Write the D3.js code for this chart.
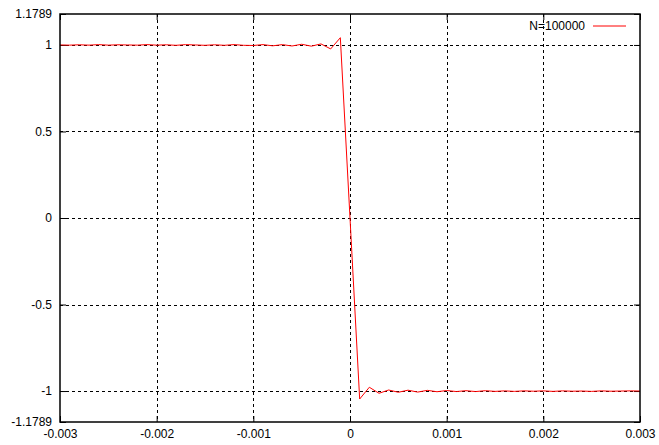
<!DOCTYPE html>
<html>
<head>
<meta charset="utf-8">
<script src="https://cdn.jsdelivr.net/npm/d3@7"></script>
<style>
  html, body { margin: 0; padding: 0; background: #fff; }
  svg { display: block; }
  text { font-family: "Liberation Sans", Arial, sans-serif; font-size: 12px; fill: #000; }
</style>
</head>
<body>
<svg id="chart" width="659" height="445"></svg>
<script>
// x samples (step 1e-4 from -0.003 to 0.003)
const xValues = [
  -0.0030, -0.0029, -0.0028, -0.0027, -0.0026, -0.0025, -0.0024, -0.0023, -0.0022, -0.0021,
  -0.0020, -0.0019, -0.0018, -0.0017, -0.0016, -0.0015, -0.0014, -0.0013, -0.0012, -0.0011,
  -0.0010, -0.0009, -0.0008, -0.0007, -0.0006, -0.0005, -0.0004, -0.0003, -0.0002, -0.0001,
   0.0000,
   0.0001,  0.0002,  0.0003,  0.0004,  0.0005,  0.0006,  0.0007,  0.0008,  0.0009,  0.0010,
   0.0011,  0.0012,  0.0013,  0.0014,  0.0015,  0.0016,  0.0017,  0.0018,  0.0019,  0.0020,
   0.0021,  0.0022,  0.0023,  0.0024,  0.0025,  0.0026,  0.0027,  0.0028,  0.0029,  0.0030
];
// series N=100000 (one value per xValues entry)
const yValues = [
  1.000, 0.999, 1.001, 0.999, 1.002, 0.999, 1.001, 1.000, 0.999, 1.002,
  0.999, 1.001, 0.998, 1.002, 1.000, 0.998, 1.001, 0.998, 1.002, 0.998,
  0.997, 1.002, 0.995, 1.002, 0.994, 1.004, 0.993, 1.006, 0.977, 1.042,
  0.000,
  -1.046, -0.978, -1.013, -0.994, -1.007, -0.995, -1.006, -0.996, -1.004, -0.997,
  -1.003, -0.998, -1.003, -0.998, -1.002, -0.999, -1.002, -0.999, -1.001, -0.999,
  -1.002, -0.999, -1.001, -1.000, -1.002, -0.999, -1.001, -1.000, -0.999, -1.000
];
const xTicks = [-0.003, -0.002, -0.001, 0, 0.001, 0.002, 0.003];
const xTickLabels = ["-0.003", "-0.002", "-0.001", "0", "0.001", "0.002", "0.003"];
const yTicks = [-1.1789, -1, -0.5, 0, 0.5, 1, 1.1789];
const yTickLabels = ["-1.1789", "-1", "-0.5", "0", "0.5", "1", "1.1789"];
const xGrid = [-0.002, -0.001, 0, 0.001, 0.002];
const yGrid = [-1, -0.5, 0, 0.5, 1];
const legendLabel = "N=100000";
</script>
<script>
const svg = d3.select("#chart");
const L = 60, R = 640, T = 14, B = 422;
const x = d3.scaleLinear().domain([-0.003, 0.003]).range([L, R]);
const y = d3.scaleLinear().domain([-1.1789, 1.1789]).range([B, T]);

// grid
const grid = svg.append("g");
grid.selectAll(".gx").data(xGrid).enter().append("line")
  .attr("x1", d => Math.round(x(d)) + 0.5).attr("x2", d => Math.round(x(d)) + 0.5)
  .attr("y1", T).attr("y2", B)
  .attr("stroke", "#000").attr("stroke-width", 1).attr("stroke-dasharray", "3,3");
grid.selectAll(".gy").data(yGrid).enter().append("line")
  .attr("y1", d => Math.round(y(d)) + 0.5).attr("y2", d => Math.round(y(d)) + 0.5)
  .attr("x1", L).attr("x2", R)
  .attr("stroke", "#000").attr("stroke-width", 1).attr("stroke-dasharray", "3,3");

// axes (ticks inward, mirrored)
const xAxisB = d3.axisBottom(x).tickValues(xTicks).tickFormat((d, i) => xTickLabels[i]).tickSizeInner(-6).tickSizeOuter(0).tickPadding(12);
const gB = svg.append("g").attr("transform", `translate(0,${B})`).call(xAxisB);
const xAxisT = d3.axisTop(x).tickValues(xTicks).tickFormat("").tickSizeInner(-6).tickSizeOuter(0);
const gT = svg.append("g").attr("transform", `translate(0,${T})`).call(xAxisT);
const yAxisL = d3.axisLeft(y).tickValues(yTicks).tickFormat((d, i) => yTickLabels[i]).tickSizeInner(-6).tickSizeOuter(0).tickPadding(8);
const gL = svg.append("g").attr("transform", `translate(${L},0)`).call(yAxisL);
const yAxisR = d3.axisRight(y).tickValues(yTicks).tickFormat("").tickSizeInner(-6).tickSizeOuter(0);
const gR = svg.append("g").attr("transform", `translate(${R},0)`).call(yAxisR);
[gB, gT, gL, gR].forEach(g => {
  g.select(".domain").remove();
  g.selectAll("text").style("font-family", "'Liberation Sans', Arial, sans-serif").style("font-size", "12px");
  g.selectAll("line").attr("stroke", "#000");
});
gB.selectAll("text").attr("dy", "0.35em");

// series
const pts = xValues.map((xv, i) => [xv, yValues[i]]);
const lineGen = d3.line().x(d => x(d[0])).y(d => y(d[1]));
svg.append("path").datum(pts)
  .attr("d", lineGen).attr("fill", "none").attr("stroke", "#ff0000").attr("stroke-width", 1);

// border
svg.append("rect").attr("x", L).attr("y", T).attr("width", R - L).attr("height", B - T)
  .attr("fill", "none").attr("stroke", "#000").attr("stroke-width", 1.5);

// legend
svg.append("text").attr("x", 585).attr("y", 26).attr("dy", "0.35em").attr("text-anchor", "end").text(legendLabel);
svg.append("line").attr("x1", 593).attr("x2", 626).attr("y1", 26).attr("y2", 26)
  .attr("stroke", "#ff0000").attr("stroke-width", 1);
</script>
</body>
</html>
